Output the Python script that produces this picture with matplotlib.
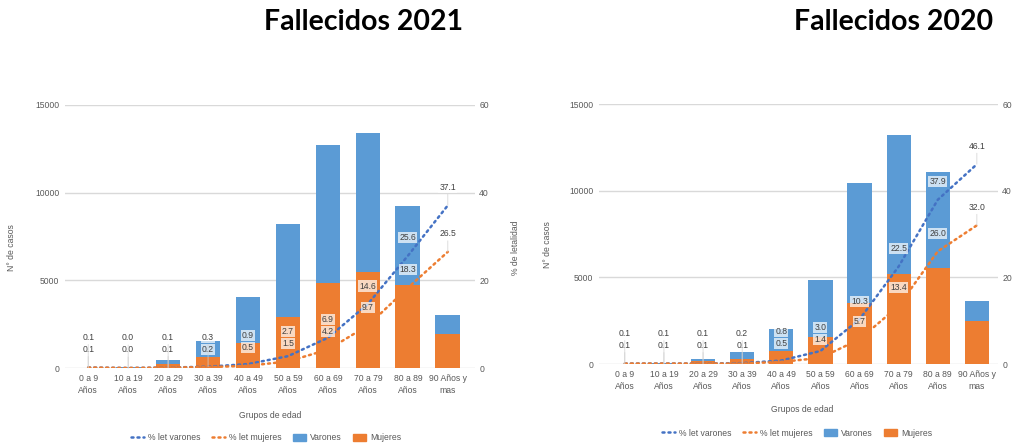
import matplotlib
matplotlib.use("Agg")
import matplotlib.pyplot as plt
from matplotlib.lines import Line2D
from matplotlib.patches import Patch
import numpy as np

plt.rcParams['font.family'] = ['Liberation Sans', 'DejaVu Sans']

categorias = ["0 a 9\nAños", "10 a 19\nAños", "20 a 29\nAños", "30 a 39\nAños",
              "40 a 49\nAños", "50 a 59\nAños", "60 a 69\nAños", "70 a 79\nAños",
              "80 a 89\nAños", "90 Años y\nmas"]

# Fallecidos 2021
mujeres_2021 = [10, 15, 230, 625, 1420, 2900, 4830, 5450, 4720, 1930]
varones_2021 = [10, 15, 220, 905, 2610, 5340, 7900, 7960, 4540, 1080]
let_varones_2021 = [0.1, 0.0, 0.1, 0.3, 0.9, 2.7, 6.9, 14.6, 25.6, 37.1]
let_mujeres_2021 = [0.1, 0.0, 0.1, 0.2, 0.5, 1.5, 4.2, 9.7, 18.3, 26.5]

# Fallecidos 2020
mujeres_2020 = [10, 20, 170, 290, 750, 1560, 3520, 5190, 5540, 2480]
varones_2020 = [10, 30, 120, 410, 1270, 3280, 6920, 8010, 5530, 1150]
let_varones_2020 = [0.1, 0.1, 0.1, 0.2, 0.8, 3.0, 10.3, 22.5, 37.9, 46.1]
let_mujeres_2020 = [0.1, 0.1, 0.1, 0.1, 0.5, 1.4, 5.7, 13.4, 26.0, 32.0]

AZUL_BARRA = "#5B9BD5"
NARANJA = "#ED7D31"
AZUL_LINEA = "#4472C4"
GRIS_TXT = "#595959"
GRID = "#d9d9d9"
PUNTEADO = (0, (0.8, 1.6))

W, H = 1019, 446
fig = plt.figure(figsize=(W / 100, H / 100), dpi=100)


def panel(rect, xlim, mujeres, varones, let_v, let_m):
    ax = fig.add_axes(rect)
    x = np.arange(len(categorias))
    ax.bar(x, mujeres, width=0.62, color=NARANJA, zorder=2)
    ax.bar(x, varones, width=0.62, bottom=mujeres, color=AZUL_BARRA, zorder=2)
    ax.set_ylim(0, 15000)
    ax.set_xlim(*xlim)
    ax.set_yticks([0, 5000, 10000, 15000])
    ax.set_xticks(x)
    ax.set_xticklabels(categorias, fontsize=5.8, color=GRIS_TXT, linespacing=1.5)
    ax.tick_params(axis='both', length=0, labelsize=6.2, colors=GRIS_TXT, pad=4)
    ax.grid(axis='y', color=GRID, lw=1.0)
    ax.set_axisbelow(True)
    for s in ax.spines.values():
        s.set_visible(False)

    ax2 = ax.twinx()
    ax2.set_ylim(0, 60)
    ax2.set_xlim(*xlim)
    ax2.set_yticks([0, 20, 40, 60])
    ax2.tick_params(axis='y', length=0, labelsize=6.2, colors=GRIS_TXT, pad=3)
    for s in ax2.spines.values():
        s.set_visible(False)
    ax2.plot(x, let_v, color=AZUL_LINEA, lw=1.8, ls=PUNTEADO,
             dash_capstyle='round', zorder=3)
    ax2.plot(x, let_m, color=NARANJA, lw=1.8, ls=PUNTEADO,
             dash_capstyle='round', zorder=3)

    # data labels: mujeres label above its point, varones label above that
    px_per_unit = rect[3] * H / 60.0
    px_per_case = rect[3] * H / 15000.0
    for i in range(len(x)):
        total_px = (mujeres[i] + varones[i]) * px_per_case
        dm = 18
        base_m = let_m[i] * px_per_unit + dm
        base_v = max(let_v[i] * px_per_unit + 18, base_m + 12)
        dv = base_v - let_v[i] * px_per_unit
        for val, dy, base in ((let_m[i], dm, base_m), (let_v[i], dv, base_v)):
            fuera = base - 4 > total_px
            kw = {}
            if fuera:
                kw['arrowprops'] = dict(arrowstyle='-', color='#d0d0d0',
                                        lw=0.5, shrinkA=1, shrinkB=0)
            ax2.annotate(f"{val:.1f}", xy=(i, val), xytext=(0, dy),
                         textcoords='offset pixels', ha='center', va='center',
                         fontsize=6.2, color="#404040", zorder=5,
                         bbox=dict(boxstyle='square,pad=0.12', fc='white',
                                   ec='none', alpha=0.7), **kw)
    return ax, ax2


rect_l = [65 / W, 1 - 368 / H, 410 / W, 263 / H]
rect_r = [599 / W, 1 - 364 / H, 399 / W, 260 / H]
panel(rect_l, (-0.58, 9.68), mujeres_2021, varones_2021,
      let_varones_2021, let_mujeres_2021)
panel(rect_r, (-0.66, 9.54), mujeres_2020, varones_2020,
      let_varones_2020, let_mujeres_2020)

# titles
fig.text(364 / W, 1 - 22 / H, "Fallecidos 2021", ha='center', va='center',
         fontsize=20.5, fontweight='bold', family='Lato', color='black')
fig.text(894 / W, 1 - 22 / H, "Fallecidos 2020", ha='center', va='center',
         fontsize=20.5, fontweight='bold', family='Lato', color='black')

# axis titles
fig.text(12 / W, 1 - 248 / H, "N° de casos", rotation=90, ha='center',
         va='center', fontsize=6.2, color=GRIS_TXT)
fig.text(516 / W, 1 - 248 / H, "% de letalidad", rotation=90, ha='center',
         va='center', fontsize=6.2, color=GRIS_TXT)
fig.text(548 / W, 1 - 245 / H, "N° de casos", rotation=90, ha='center',
         va='center', fontsize=6.2, color=GRIS_TXT)
fig.text(270 / W, 1 - 416 / H, "Grupos de edad", ha='center', va='center',
         fontsize=6.2, color=GRIS_TXT)
fig.text(802 / W, 1 - 410 / H, "Grupos de edad", ha='center', va='center',
         fontsize=6.2, color=GRIS_TXT)

handles = [
    Line2D([], [], color=AZUL_LINEA, lw=1.8, ls=PUNTEADO, dash_capstyle='round'),
    Line2D([], [], color=NARANJA, lw=1.8, ls=PUNTEADO, dash_capstyle='round'),
    Patch(color=AZUL_BARRA),
    Patch(color=NARANJA),
]
labels = ["% let varones", "% let mujeres", "Varones", "Mujeres"]
for cx, cy in ((266, 438), (797, 433)):
    fig.legend(handles, labels, loc='center', bbox_to_anchor=(cx / W, 1 - cy / H),
               ncol=4, frameon=False, fontsize=6.2, handlelength=1.5,
               handleheight=1.0, columnspacing=1.3, handletextpad=0.5,
               labelcolor=GRIS_TXT)

fig.savefig("out.png", dpi=100)
